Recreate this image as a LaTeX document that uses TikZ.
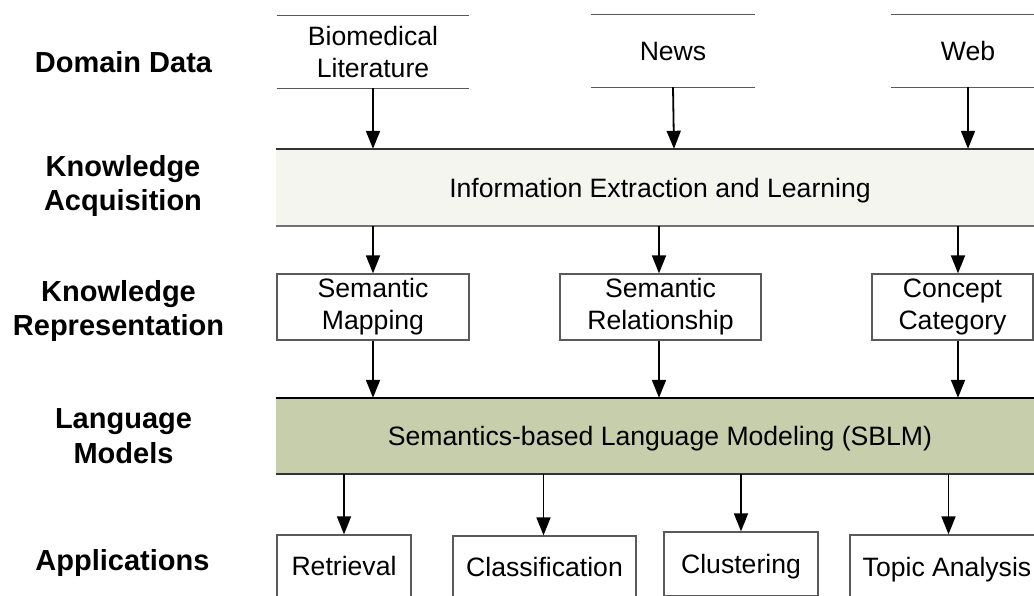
\documentclass[tikz,border=0pt]{standalone}
\usepackage{fontspec}
\setmainfont{Liberation Sans}
\usetikzlibrary{arrows.meta}

\definecolor{acqfill}{HTML}{F3F5EE}
\definecolor{lmfill}{HTML}{C6CEAB}
\definecolor{edgegrey}{HTML}{5A5A5A}
\definecolor{topedge}{HTML}{333333}
\definecolor{lowedge}{HTML}{707070}

\tikzset{
  txt/.style={font=\fontsize{26.6}{32}\selectfont, align=center, inner sep=0pt},
  oneline/.style={text height=19pt, text depth=0pt},
  rowlabel/.style={font=\fontsize{29}{34.5}\selectfont\bfseries, align=center, inner sep=0pt},
  store/.style={txt, minimum height=72pt},
  storeline/.style={draw=edgegrey, line width=1.3pt},
  stage/.style={txt, oneline, minimum height=77pt, minimum width=768pt},
  box/.style={txt, draw=edgegrey, line width=1.3pt},
  flow/.style={-{Triangle[length=18pt,width=14pt]}, line width=1.8pt},
}

\begin{document}
\begin{tikzpicture}[x=1pt, y=-1pt]
  \useasboundingbox (0,0) rectangle (1034,595);
  \clip (0,0) rectangle (1034,595);

  % row labels
  \node[rowlabel] (lData) at (123.5,62) {Domain Data};
  \node[rowlabel] (lAcq)  at (123,186) {Knowledge\\Acquisition};
  \node[rowlabel] (lRep)  at (118.5,311) {Knowledge\\Representation};
  \node[rowlabel] (lLM)   at (123.5,436) {Language\\Models};
  \node[rowlabel, text height=21pt, text depth=0pt] (lApp) at (122.5,560) {Applications};

  % domain data stores
  \node[store, minimum width=192pt] (bio)  at (373,52) {Biomedical\\Literature};
  \node[store, oneline, minimum width=164pt] (news) at (673,51) {News};
  \node[store, oneline, minimum width=154pt] (web)  at (968,51) {Web};
  \foreach \s in {bio,news,web}{
    \draw[storeline] (\s.north west) -- (\s.north east);
    \draw[storeline] (\s.south west) -- (\s.south east);
  }

  % knowledge acquisition
  \node[stage, fill=acqfill] (ie) at (660,187.5) {Information Extraction and Learning};
  \draw[topedge, line width=1.5pt] (ie.north west) -- (ie.north east);
  \draw[lowedge, line width=1.5pt] (ie.south west) -- (ie.south east);

  % knowledge representation
  \node[box, minimum width=192pt, minimum height=66pt] (map) at (373,307) {Semantic\\Mapping};
  \node[box, minimum width=201pt, minimum height=66pt] (rel) at (660.5,307) {Semantic\\Relationship};
  \node[box, minimum width=161pt, minimum height=66pt] (cat) at (952.5,307) {Concept\\Category};

  % language models
  \node[stage, minimum height=76pt, fill=lmfill] (sblm) at (660,436) {Semantics-based Language Modeling (SBLM)};
  \draw[black, line width=1.5pt] (sblm.north west) -- (sblm.north east);
  \draw[topedge, line width=1.5pt] (sblm.south west) -- (sblm.south east);

  % applications
  \node[box, oneline, minimum width=134pt, minimum height=62pt] (ret) at (344,566) {Retrieval};
  \node[box, oneline, minimum width=183pt, minimum height=62pt] (cls) at (544.5,567) {Classification};
  \node[box, oneline, minimum width=154pt, minimum height=64pt] (clu) at (741,564) {Clustering};
  \node[box, oneline, minimum width=194pt, minimum height=64pt] (top) at (947,567) {Topic Analysis};

  % flows
  \draw[flow] (bio.south) -- (bio.south |- ie.north);
  \draw[flow] (news.south) -- ([xshift=1pt]news.south |- ie.north);
  \draw[flow] (web.south) -- (web.south |- ie.north);

  \draw[flow] (map.north |- ie.south) -- (map.north);
  \draw[flow] ([xshift=-1.5pt]rel.north |- ie.south) -- ([xshift=-1.5pt]rel.north);
  \draw[flow] ([xshift=5.5pt]cat.north |- ie.south) -- ([xshift=5.5pt]cat.north);

  \draw[flow] (map.south) -- (map.south |- sblm.north);
  \draw[flow] ([xshift=-1.5pt]rel.south) -- ([xshift=-1.5pt]rel.south |- sblm.north);
  \draw[flow] ([xshift=5.5pt]cat.south) -- ([xshift=5.5pt]cat.south |- sblm.north);

  \draw[flow] (ret.north |- sblm.south) -- (ret.north);
  \draw[flow] ([xshift=-1pt]cls.north |- sblm.south) -- ([xshift=-1pt]cls.north);
  \draw[flow] (clu.north |- sblm.south) -- (clu.north);
  \draw[flow] ([xshift=1.5pt]top.north |- sblm.south) -- ([xshift=1.5pt]top.north);
\end{tikzpicture}
\end{document}
